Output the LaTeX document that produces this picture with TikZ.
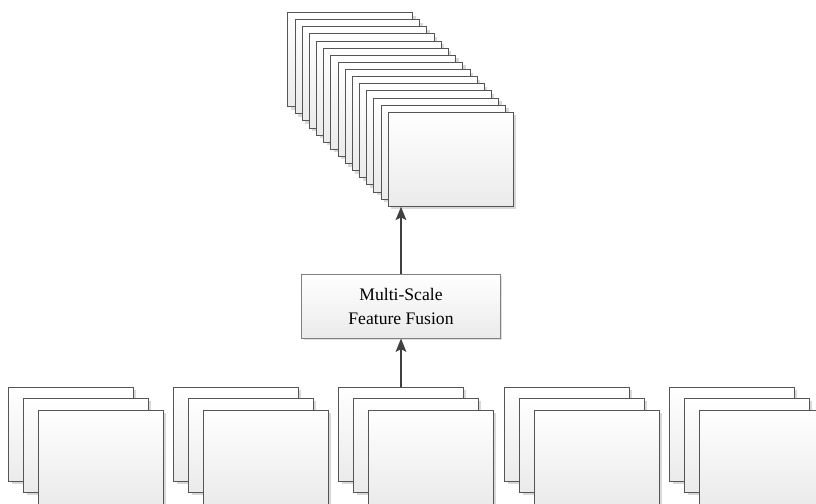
\documentclass[tikz,border=0pt]{standalone}
\usepackage{fontspec}
\setmainfont{Liberation Serif}
\usetikzlibrary{arrows.meta,shadows}
\definecolor{edgegray}{HTML}{555555}
\definecolor{arrowgray}{HTML}{404040}
\begin{document}
\begin{tikzpicture}[x=0.75pt, y=-0.75pt, >={Stealth[length=10pt,width=8pt,inset=2pt,fill=arrowgray]}]

\tikzset{
  sheet/.style={draw=edgegray, line width=0.75pt, rectangle, minimum width=93.5pt, minimum height=70.5pt,
    top color=white, bottom color=black!8, drop shadow={shadow xshift=2.2pt, shadow yshift=-2.2pt, fill=black!15, opacity=1}},
  fusion/.style={draw=black!50, line width=0.75pt, rectangle, minimum width=149pt, minimum height=48pt, align=center,
    top color=white, bottom color=black!8, font=\fontsize{13.2}{18}\selectfont,
    drop shadow={shadow xshift=1.5pt, shadow yshift=-1.5pt, fill=black!12, opacity=1}},
  arr/.style={->, draw=arrowgray, line width=1.3pt}
}

\useasboundingbox (0,0) rectangle (816,503);

% Fused output maps
\node[sheet] (out1)  at (350.3,59.7)  {};
\node[sheet] (out2)  at (357.5,66.8)  {};
\node[sheet] (out3)  at (364.6,73.9)  {};
\node[sheet] (out4)  at (371.8,81.0)  {};
\node[sheet] (out5)  at (379.0,88.1)  {};
\node[sheet] (out6)  at (386.2,95.3)  {};
\node[sheet] (out7)  at (393.3,102.4) {};
\node[sheet] (out8)  at (400.5,109.5) {};
\node[sheet] (out9)  at (407.7,116.6) {};
\node[sheet] (out10) at (414.8,123.7) {};
\node[sheet] (out11) at (422.0,130.8) {};
\node[sheet] (out12) at (429.2,137.9) {};
\node[sheet] (out13) at (436.3,145.0) {};
\node[sheet] (out14) at (443.5,152.1) {};
\node[sheet] (out15) at (450.7,159.2) {};

% Fusion block
\node[fusion] (fuse) at (401,306) {Multi-Scale\\Feature Fusion};

% Input maps, scale 1
\node[sheet] (in1a) at (71,434)  {};
\node[sheet] (in1b) at (86,445)  {};
\node[sheet] (in1c) at (101,457) {};

% Input maps, scale 2
\node[sheet] (in2a) at (236,434) {};
\node[sheet] (in2b) at (251,445) {};
\node[sheet] (in2c) at (266,457) {};

% Input maps, scale 3
\node[sheet] (in3a) at (401,434) {};
\node[sheet] (in3b) at (416,445) {};
\node[sheet] (in3c) at (431,457) {};

% Input maps, scale 4
\node[sheet] (in4a) at (567,434) {};
\node[sheet] (in4b) at (582,445) {};
\node[sheet] (in4c) at (597,457) {};

% Input maps, scale 5
\node[sheet] (in5a) at (732,434) {};
\node[sheet] (in5b) at (747,445) {};
\node[sheet] (in5c) at (762,457) {};

% Connectors
\draw[arr] (in3a.north) -- (fuse.south);
\draw[arr] (fuse.north) -- (fuse.north |- out15.south);

\end{tikzpicture}
\end{document}
